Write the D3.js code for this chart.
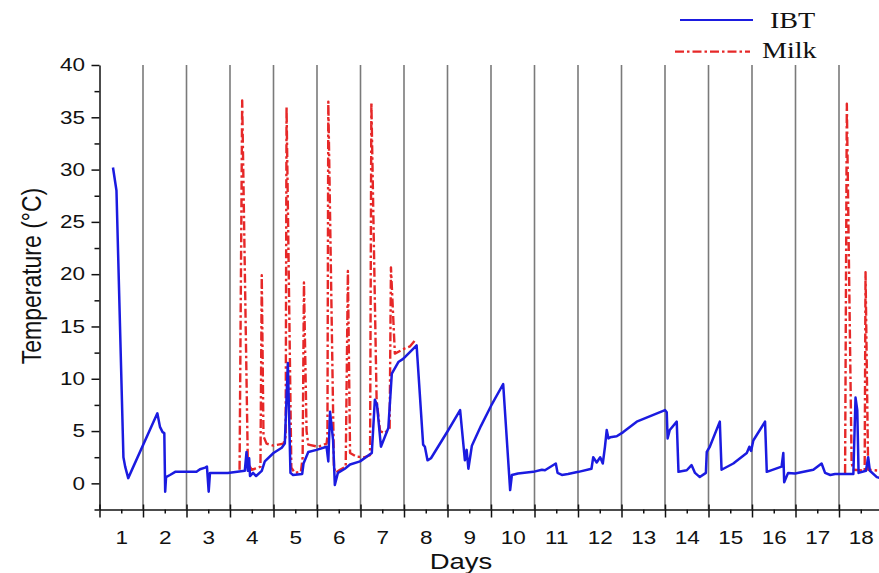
<!DOCTYPE html>
<html>
<head>
<meta charset="utf-8">
<script src="https://cdn.jsdelivr.net/npm/d3@7"></script>
<style>
  html, body { margin: 0; padding: 0; background: #fff; }
  svg { display: block; }
</style>
</head>
<body>
<svg id="chart" width="879" height="573"></svg>
<script>
// In-barrel temperature (IBT) readings, day vs. °C
const ibtDay = [
  0.31, 0.39, 0.55, 0.59, 0.66, 1.33, 1.39, 1.45, 1.49, 1.51, 1.53, 1.62, 1.74,
  2.23, 2.31, 2.43, 2.47, 2.51, 2.54, 2.95, 3.34, 3.38, 3.41, 3.44, 3.46, 3.53,
  3.60, 3.73, 3.80, 4.00, 4.19, 4.26, 4.33, 4.39, 4.45, 4.66, 4.69, 4.80, 4.99,
  5.22, 5.26, 5.30, 5.37, 5.41, 5.48, 5.64, 5.76, 5.99, 6.26, 6.33, 6.38, 6.47,
  6.64, 6.72, 6.87, 6.98, 7.29, 7.44, 7.48, 7.54, 7.62, 8.02, 8.29, 8.40, 8.44,
  8.48, 8.56, 8.77, 9.00, 9.28, 9.44, 9.48, 9.62, 9.97, 10.17, 10.24, 10.49,
  10.53, 10.63, 10.77, 11.01, 11.31, 11.35, 11.43, 11.51, 11.57, 11.62, 11.66,
  11.70, 11.74, 11.89, 12.04, 12.35, 13.00, 13.04, 13.06, 13.11, 13.27, 13.31,
  13.50, 13.61, 13.69, 13.80, 13.94, 13.96, 14.03, 14.26, 14.30, 14.57, 14.88,
  14.94, 14.98, 15.03, 15.30, 15.34, 15.68, 15.72, 15.74, 15.83, 15.99, 16.41,
  16.60, 16.68, 16.80, 16.91, 17.33, 17.38, 17.42, 17.45, 17.62, 17.67, 17.71,
  17.87, 17.95
];
const ibtTemp = [
  30.2, 28.0, 2.5, 1.6, 0.5, 6.7, 5.4, 4.9, 4.8, -0.8, 0.6, 0.8, 1.1,
  1.1, 1.35, 1.5, 1.6, -0.8, 1.0, 1.0, 1.2, 3.0, 1.2, 2.4, 0.7, 1.0,
  0.7, 1.2, 2.1, 2.9, 3.4, 3.8, 11.5, 1.0, 0.8, 0.9, 1.9, 3.0, 3.2,
  3.5, 2.1, 6.85, 4.1, -0.15, 1.0, 1.4, 1.8, 2.1, 2.9, 8.0, 7.5, 3.5,
  5.3, 10.5, 11.6, 11.9, 13.2, 3.7, 3.5, 2.2, 2.4, 5.1, 7.0, 2.2, 3.2,
  1.4, 3.6, 5.5, 7.4, 9.5, -0.64, 0.8, 0.95, 1.1, 1.3, 1.25, 1.9,
  1.0, 0.8, 0.9, 1.1, 1.4, 2.5, 2.0, 2.5, 1.9, 3.5, 5.1,
  4.3, 4.4, 4.5, 4.9, 5.9, 7.0, 6.8, 4.3, 5.1, 5.9, 1.1,
  1.25, 1.75, 1.0, 0.6, 1.0, 3.0, 3.5, 5.9, 1.3, 1.9, 2.9,
  3.5, 3.1, 4.1, 5.9, 1.1, 1.6, 2.9, 0.1, 1.0, 0.95, 1.3,
  1.9, 1.0, 0.8, 0.9, 0.9, 8.2, 7.0, 1.0, 1.2, 2.5, 1.2,
  0.6, 0.5
];

// Milk temperature readings (null separates the two recorded periods)
const milkDay = [
  3.22, 3.28, 3.41, 3.50, 3.61, 3.70, 3.73, 3.77, 3.84, 4.00, 4.11, 4.23, 4.28,
  4.30, 4.41, 4.49, 4.63, 4.67, 4.70, 4.76, 4.80, 5.03, 5.22, 5.24, 5.26, 5.39,
  5.43, 5.53, 5.66, 5.71, 5.76, 5.91, 6.10, 6.22, 6.25, 6.37, 6.45, 6.56, 6.67,
  6.70, 6.79, 7.02, 7.14, 7.28,
  null,
  17.14, 17.18, 17.29, 17.34, 17.59, 17.61, 17.67, 17.95
];
const milkTemp = [
  1.3, 36.6, 1.9, 1.3, 1.45, 1.6, 19.9, 4.5, 3.8, 3.6, 3.7, 3.8, 4.5,
  36.0, 1.5, 1.0, 1.1, 2.5, 19.2, 5.0, 3.7, 3.5, 3.8, 4.5, 36.5, 1.5,
  1.0, 1.3, 1.6, 20.3, 2.9, 2.55, 2.5, 2.7, 36.4, 8.0, 5.0, 4.8, 5.3,
  20.65, 12.4, 12.9, 13.1, 13.8,
  null,
  1.0, 36.3, 1.9, 1.3, 1.2, 20.2, 1.3, 1.2
];

const dayLabels = ["1", "2", "3", "4", "5", "6", "7", "8", "9", "10", "11", "12",
                   "13", "14", "15", "16", "17", "18"];
const dayBoundaries = [0, 1, 2, 3, 4, 5, 6, 7, 8, 9, 10, 11, 12, 13, 14, 15, 16, 17, 18];
const dayCentres = [0.5, 1.5, 2.5, 3.5, 4.5, 5.5, 6.5, 7.5, 8.5, 9.5, 10.5, 11.5,
                    12.5, 13.5, 14.5, 15.5, 16.5, 17.5];
const gridDays = [1, 2, 3, 4, 5, 6, 7, 8, 9, 10, 11, 12, 13, 14, 15, 16, 17];
const tempTicks = [0, 5, 10, 15, 20, 25, 30, 35, 40];
const tempMinorTicks = [-2.5, 2.5, 7.5, 12.5, 17.5, 22.5, 27.5, 32.5, 37.5];
const seriesNames = ["IBT", "Milk"];

const IBT_COLOR = "#1b1be0";
const MILK_COLOR = "#e62828";
const MILK_DASH = "9,3,2.5,3";
const SX = 1.25; // horizontal stretch applied to all lettering

const svg = d3.select("#chart");

const x = d3.scaleLinear().domain([0, 18.2]).range([99.5, 99.5 + 18.2 * 43.5]);
const y = d3.scaleLinear().domain([-2.5, 40]).range([509.5, 65]);

// vertical day separators
svg.append("g")
  .selectAll("line")
  .data(gridDays)
  .join("line")
  .attr("x1", d => x(d)).attr("x2", d => x(d))
  .attr("y1", y(40)).attr("y2", y(-2.5))
  .attr("stroke", "#7a7a7a")
  .attr("stroke-width", 1.6);

// series
const ibtPts = ibtDay.map((d, i) => ({ d, t: ibtTemp[i] }));
const milkPts = milkDay.map((d, i) => ({ d, t: milkTemp[i] }));

const line = d3.line()
  .defined(p => p.d != null && p.t != null)
  .x(p => x(p.d))
  .y(p => y(p.t));

svg.append("path")
  .datum(milkPts)
  .attr("d", line)
  .attr("fill", "none")
  .attr("stroke", MILK_COLOR)
  .attr("stroke-width", 2.4)
  .attr("stroke-dasharray", MILK_DASH)
  .attr("stroke-linejoin", "round");

svg.append("path")
  .datum(ibtPts)
  .attr("d", line)
  .attr("fill", "none")
  .attr("stroke", IBT_COLOR)
  .attr("stroke-width", 2.5)
  .attr("stroke-linejoin", "round");

// x axis: crossing major ticks at day boundaries, minor ticks carry day labels
const xAxisY = y(-2.5);
const axisFont = "'Liberation Sans', Arial, sans-serif";

svg.append("g")
  .attr("transform", `translate(0,${xAxisY})`)
  .call(d3.axisBottom(x).tickValues(dayBoundaries).tickSize(8).tickSizeOuter(0).tickFormat(""));
const xMajorUp = svg.append("g")
  .attr("transform", `translate(0,${xAxisY})`)
  .call(d3.axisTop(x).tickValues(dayBoundaries).tickSize(5).tickSizeOuter(0).tickFormat(""));
xMajorUp.select(".domain").remove();

const xMinor = svg.append("g")
  .attr("transform", `translate(0,${xAxisY})`)
  .call(d3.axisBottom(x).tickValues(dayCentres).tickSize(4).tickSizeOuter(0)
    .tickPadding(17.5).tickFormat((d, i) => dayLabels[i]));
xMinor.select(".domain").remove();
xMinor.selectAll("text")
  .attr("transform", `scale(${SX},1)`)
  .attr("font-size", 18)
  .attr("font-family", axisFont)
  .attr("fill", "#111");

// y axis
const yMajor = svg.append("g")
  .attr("transform", `translate(${x(0)},0)`)
  .call(d3.axisLeft(y).tickValues(tempTicks).tickSize(8).tickSizeOuter(0).tickFormat(d3.format("d")));
yMajor.selectAll("text")
  .attr("x", -11.5)
  .attr("transform", `scale(${SX},1)`)
  .attr("font-size", 18)
  .attr("font-family", axisFont)
  .attr("fill", "#111");
const yMinor = svg.append("g")
  .attr("transform", `translate(${x(0)},0)`)
  .call(d3.axisLeft(y).tickValues(tempMinorTicks).tickSize(5).tickSizeOuter(0).tickFormat(""));
yMinor.select(".domain").remove();

svg.selectAll(".domain, .tick line")
  .attr("stroke", "#111")
  .attr("stroke-width", 1.5);

// axis titles
svg.append("g")
  .attr("transform", `translate(41,276) scale(1.2,1) rotate(-90)`)
  .append("text")
  .attr("text-anchor", "middle")
  .attr("font-size", 23)
  .attr("font-family", axisFont)
  .attr("fill", "#111")
  .text("Temperature (°C)");

svg.append("g")
  .attr("transform", `translate(461,568.5) scale(${SX},1)`)
  .append("text")
  .attr("text-anchor", "middle")
  .attr("font-size", 22)
  .attr("font-family", axisFont)
  .attr("fill", "#111")
  .text("Days");

// legend
const legend = svg.append("g").attr("font-family", "'Liberation Serif', 'Times New Roman', serif");
const legendRows = [
  { name: seriesNames[0], color: IBT_COLOR, dash: null, x1: 680, x2: 753, ly: 20, tx: 770, ty: 28 },
  { name: seriesNames[1], color: MILK_COLOR, dash: MILK_DASH, x1: 675, x2: 750, ly: 51.7, tx: 762, ty: 58 }
];
legendRows.forEach(r => {
  legend.append("line")
    .attr("x1", r.x1).attr("x2", r.x2)
    .attr("y1", r.ly).attr("y2", r.ly)
    .attr("stroke", r.color)
    .attr("stroke-width", 2.2)
    .attr("stroke-dasharray", r.dash);
  legend.append("g")
    .attr("transform", `translate(${r.tx},${r.ty}) scale(${SX},1)`)
    .append("text")
    .attr("font-size", 22.5)
    .attr("fill", "#111")
    .text(r.name);
});
</script>
</body>
</html>
